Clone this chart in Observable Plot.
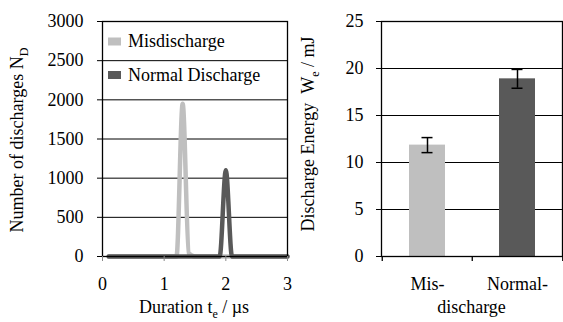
<!DOCTYPE html>
<html><head><meta charset="utf-8">
<script src="https://cdn.jsdelivr.net/npm/d3@7"></script>
<script src="https://cdn.jsdelivr.net/npm/@observablehq/plot@0.6"></script>
<style>
body{margin:0;background:#fff;}
#wrap{position:relative;width:563px;height:322px;color:#000;}
#left,#right{position:absolute;top:0;}
#left{left:0}#right{left:290px}
</style></head><body>
<div id="wrap"><div id="left"></div><div id="right"></div></div>
<script>
// ---- Left panel data ----
const durations = [0.1,0.2,0.3,0.4,0.5,0.6,0.7,0.8,0.9,1.0,1.1,1.2,1.3,1.4,1.5,1.6,1.7,1.8,1.9,2.0,2.1,2.2,2.3,2.4,2.5,2.6,2.7,2.8,2.9,3.0];
const misdischarge =   [0,0,0,0,0,0,0,0,0,0,0,0,1950,40,0,0,0,0,0,0,0,0,0,0,0,0,0,0,0,0];
const normalDischarge = [0,0,0,0,0,0,0,0,0,0,0,0,0,0,0,0,0,0,0,1100,0,0,0,0,0,0,0,0,0,0];
const seriesNames = ["Misdischarge", "Normal Discharge"];
const seriesColors = ["#bfbfbf", "#595959"];
const xTicksL = [0, 1, 2, 3];
const yTicksL = [0, 500, 1000, 1500, 2000, 2500, 3000];

// ---- Right panel data ----
const categories = ["Mis-", "Normal-"];
const categorySecondLine = "discharge";
const energy = [11.85, 18.9];
const energyErr = [0.8, 1.0];
const barColors = ["#bfbfbf", "#595959"];
const yTicksR = [0, 5, 10, 15, 20, 25];

const FONT = "'Liberation Serif'";
const FS = 18;
const style = {fontFamily: FONT, fontSize: FS + "px", color: "#000", background: "transparent", overflow: "visible"};

const misRows = durations.map((t, i) => ({t, n: misdischarge[i]}));
const normRows = durations.map((t, i) => ({t, n: normalDischarge[i]}));

const leftW = 290, H = 322;
const left = Plot.plot({
  width: leftW, height: H,
  marginLeft: 102, marginRight: 3, marginTop: 21, marginBottom: 66,
  style,
  x: {domain: [xTicksL[0], xTicksL[xTicksL.length - 1]]},
  y: {domain: [yTicksL[0], yTicksL[yTicksL.length - 1]]},
  marks: [
    Plot.ruleY(yTicksL, {stroke: "#000", strokeWidth: 1}),
    Plot.line(misRows, {x: "t", y: "n", stroke: seriesColors[0], strokeWidth: 4.5, curve: "monotone-x"}),
    Plot.line(normRows, {x: "t", y: "n", stroke: seriesColors[1], strokeWidth: 4.5, curve: "monotone-x"}),
    Plot.frame({stroke: "#000", strokeWidth: 1.3}),
    Plot.axisY({ticks: yTicksL, tickSize: 5, tickPadding: 14, fontSize: FS, label: null, tickFormat: d => String(d)}),
    Plot.axisX({ticks: xTicksL, tickSize: 5, tickPadding: 16, fontSize: FS, label: null, stroke: "#888", tickFormat: d => String(d)})
  ]
});
document.getElementById("left").appendChild(left);

const rightW = 273;
const mL = 91, mR = 1;
const step = (rightW - mL - mR) / categories.length;
const barRows = categories.map((c, i) => ({c, v: energy[i], lo: energy[i] - energyErr[i], hi: energy[i] + energyErr[i], fill: barColors[i]}));

const right = Plot.plot({
  width: rightW, height: H,
  marginLeft: mL, marginRight: mR, marginTop: 21, marginBottom: 66,
  style,
  x: {domain: categories, padding: 0},
  y: {domain: [yTicksR[0], yTicksR[yTicksR.length - 1]]},
  marks: [
    Plot.ruleY(yTicksR, {stroke: "#000", strokeWidth: 1}),
    Plot.barY(barRows, {x: "c", y: "v", fill: "fill", insetLeft: 27, insetRight: 27}),
    Plot.ruleX(barRows, {x: "c", y1: "lo", y2: "hi", stroke: "#000", strokeWidth: 1.5}),
    Plot.tickY(barRows, {x: "c", y: "lo", stroke: "#000", strokeWidth: 1.5, insetLeft: 39.5, insetRight: 39.5}),
    Plot.tickY(barRows, {x: "c", y: "hi", stroke: "#000", strokeWidth: 1.5, insetLeft: 39.5, insetRight: 39.5}),
    Plot.frame({stroke: "#000", strokeWidth: 1.3}),
    Plot.ruleX(categories, {x: d => d, dx: -step / 2, y1: 0, y2: 0, insetBottom: -5, stroke: "#000", strokeWidth: 1.3}),
    Plot.ruleX(categories.slice(-1), {x: d => d, dx: step / 2, y1: 0, y2: 0, insetBottom: -5, stroke: "#000", strokeWidth: 1.3}),
    Plot.axisY({ticks: yTicksR, tickSize: 5, tickPadding: 13, fontSize: FS, label: null, tickFormat: d => String(d)}),
    Plot.axisX({tickSize: 0, tickPadding: 21, fontSize: FS, label: null})
  ]
});
document.getElementById("right").appendChild(right);

// ---- Axis titles with subscripts ----
function label(svg, x, y, rot, parts, anchor = "middle") {
  const t = d3.select(svg).append("text")
    .attr("transform", `translate(${x},${y})` + (rot ? ` rotate(${rot})` : ""))
    .attr("text-anchor", anchor)
    .attr("font-family", "Liberation Serif")
    .attr("font-size", FS)
    .attr("fill", "#000");
  for (const p of parts) {
    const s = t.append("tspan").text(p.text);
    if (p.sub) s.attr("font-size", 12).attr("dy", 4.5);
    if (p.after) s.attr("dy", -4.5);
  }
  return t;
}
label(left, 23, 140, -90, [{text: "Number of discharges N"}, {text: "D", sub: true}]);
label(left, 194, 313, 0, [{text: "Duration t"}, {text: "e", sub: true}, {text: " / µs", after: true}]);
label(right, 24, 134, -90, [{text: "Discharge Energy\u00a0\u00a0W"}, {text: "e", sub: true}, {text: " / mJ", after: true}]);
label(right, mL + (rightW - mL - mR) / 2, 313, 0, [{text: categorySecondLine}]);

// ---- Legend inside the left panel ----
const legY = [41.5, 75];
const gL = d3.select(left).append("g");
seriesNames.forEach((name, i) => {
  gL.append("rect").attr("x", 108).attr("y", legY[i] - 4).attr("width", 13).attr("height", 8).attr("fill", seriesColors[i]);
  gL.append("text").attr("x", 128).attr("y", legY[i]).attr("dy", "0.32em").attr("text-anchor", "start")
    .attr("font-family", "Liberation Serif").attr("font-size", FS).attr("fill", "#000").text(name);
});

d3.selectAll("svg, svg text, svg tspan").style("font-family", FONT);
</script>
</body></html>
